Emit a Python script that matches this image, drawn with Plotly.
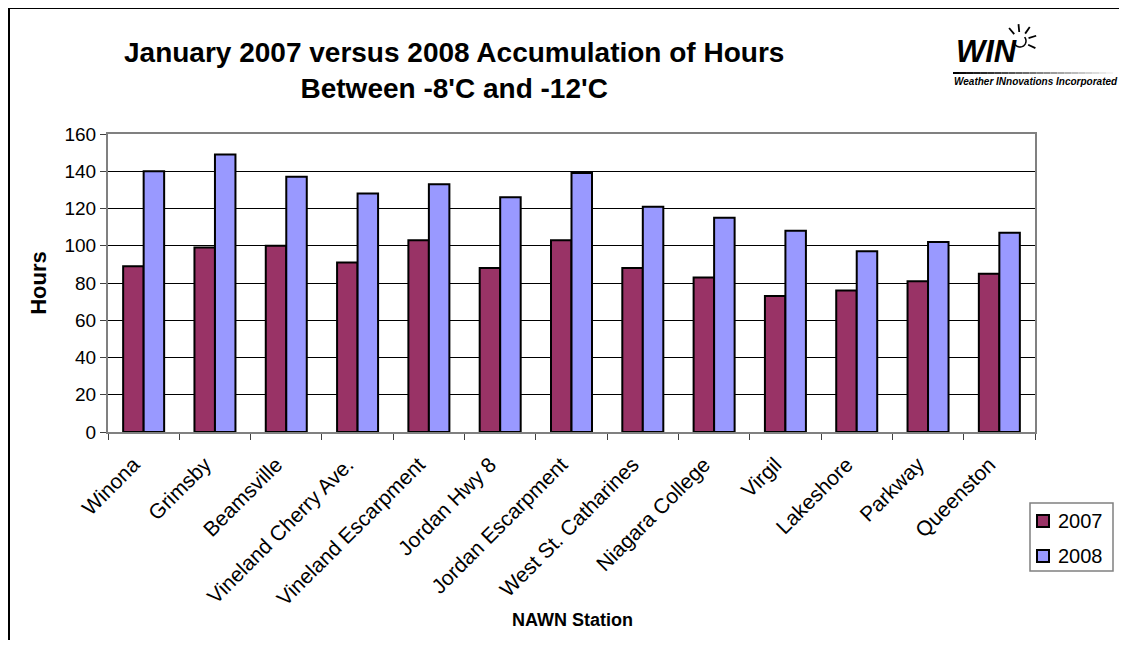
"""January 2007 vs 2008 hours between -8'C and -12'C, NAWN stations."""
import numpy as np
import plotly.graph_objects as go

stations = [
    "Winona", "Grimsby", "Beamsville", "Vineland Cherry Ave.",
    "Vineland Escarpment", "Jordan Hwy 8", "Jordan Escarpment",
    "West St. Catharines", "Niagara College", "Virgil", "Lakeshore",
    "Parkway", "Queenston",
]
hours_2007 = [89, 99, 100, 91, 103, 88, 103, 88, 83, 73, 76, 81, 85]
hours_2008 = [140, 149, 137, 128, 133, 126, 139, 121, 115, 108, 97, 102, 107]
y_ticks = [0, 20, 40, 60, 80, 100, 120, 140, 160]
series_names = ["2007", "2008"]
series_colors = ["#993366", "#9999FF"]

# page body has an 8px margin, so the figure is drawn 8px in from the window
OFF = 8
W, H = 1127 - 2 * OFF, 648 - 2 * OFF
L, R, T, B = 108, 1035, 134, 432  # plot area in window pixels
FONT = "Liberation Sans, Arial, sans-serif"


def px(x):
    return (x - L) / (R - L)


def py(y):
    return (B - y) / (B - T)


fig = go.Figure()
for name, color, vals in zip(series_names, series_colors, [hours_2007, hours_2008]):
    fig.add_trace(go.Bar(
        x=stations, y=vals, name=name,
        marker=dict(color=color, line=dict(color="black", width=2)),
    ))

shapes = []
# outer frame (top and left only visible)
shapes.append(dict(type="line", xref="paper", yref="paper",
                   x0=px(8), x1=px(1140), y0=py(8), y1=py(8),
                   line=dict(color="black", width=2)))
shapes.append(dict(type="line", xref="paper", yref="paper",
                   x0=px(9), x1=px(9), y0=py(8), y1=py(660),
                   line=dict(color="black", width=2)))

# logo: gradient underline
n_seg = 24
x_start, x_end, y_line = 953, 1120, 73
for i in range(n_seg):
    g = int(255 * i / (n_seg - 1))
    xa = x_start + (x_end - x_start) * i / n_seg
    xb = x_start + (x_end - x_start) * (i + 1) / n_seg
    shapes.append(dict(type="line", xref="paper", yref="paper",
                       x0=px(xa), x1=px(xb), y0=py(y_line), y1=py(y_line),
                       line=dict(color=f"rgb({g},{g},{g})", width=2)))

# logo: bulb arc and rays
cx, cy, rad = 1020, 41, 6
ang = np.radians(np.linspace(200, 400, 30))
pts = [(cx + rad * np.cos(a), cy - rad * np.sin(a)) for a in ang]
path = "M " + " L ".join(f"{px(a):.5f},{py(b):.5f}" for a, b in pts)
shapes.append(dict(type="path", xref="paper", yref="paper", path=path,
                   line=dict(color="black", width=1.5)))
for deg in [130, 95, 55, 18, -25]:
    a = np.radians(deg)
    x0, y0 = cx + 9 * np.cos(a), cy - 9 * np.sin(a)
    x1, y1 = cx + 17 * np.cos(a), cy - 17 * np.sin(a)
    shapes.append(dict(type="line", xref="paper", yref="paper",
                       x0=px(x0), x1=px(x1), y0=py(y0), y1=py(y1),
                       line=dict(color="black", width=1.8)))

annotations = [
    dict(text="<b>January 2007 versus 2008 Accumulation of Hours<br>Between -8'C and -12'C</b>",
         xref="paper", yref="paper", x=px(454), y=py(70), showarrow=False,
         xanchor="center", yanchor="middle", align="center",
         font=dict(family=FONT, size=28, color="black")),
    dict(text="<b>NAWN Station</b>", xref="paper", yref="paper",
         x=px(572), y=py(620), showarrow=False, xanchor="center", yanchor="middle",
         font=dict(family=FONT, size=18, color="black")),
    dict(text="<b><i>WIN</i></b>", xref="paper", yref="paper",
         x=px(1019), y=py(51), showarrow=False, xanchor="right", yanchor="middle",
         font=dict(family=FONT, size=31, color="black")),
    dict(text="<b><i>Weather INnovations Incorporated</i></b>", xref="paper", yref="paper",
         x=px(952), y=py(81), showarrow=False, xanchor="left", yanchor="middle",
         font=dict(family=FONT, size=10, color="black")),
]

# legend drawn by hand so it does not push the plot margins
shapes.append(dict(type="rect", xref="paper", yref="paper",
                   x0=px(1030), x1=px(1113), y0=py(503), y1=py(571),
                   line=dict(color="#808080", width=1.5), fillcolor="white"))
for i, (name, color) in enumerate(zip(series_names, series_colors)):
    yc = 521 + 35 * i
    shapes.append(dict(type="rect", xref="paper", yref="paper",
                       x0=px(1037), x1=px(1049), y0=py(yc - 6), y1=py(yc + 6),
                       line=dict(color="black", width=2), fillcolor=color))
    annotations.append(dict(text=name, xref="paper", yref="paper",
                            x=px(1056), y=py(yc), showarrow=False,
                            xanchor="left", yanchor="middle",
                            font=dict(family=FONT, size=20, color="black")))

fig.update_layout(
    width=W, height=H,
    margin=dict(l=L - OFF, r=W - (R - OFF), t=T - OFF, b=H - (B - OFF)),
    paper_bgcolor="white", plot_bgcolor="white",
    barmode="group", bargap=0.425, bargroupgap=0,
    font=dict(family=FONT, size=19, color="black"),
    showlegend=False,
    shapes=shapes,
    annotations=annotations,
)
fig.update_xaxes(
    tickangle=-45, ticks="outside", ticklen=6, tickcolor="#404040",
    tickson="boundaries", showline=True, linecolor="#808080", linewidth=2,
    mirror=True, showgrid=False, tickfont=dict(size=21),
    ticklabelshift=-10, ticklabelstandoff=10,
)
fig.update_yaxes(
    range=[0, 160], tickvals=y_ticks, ticks="outside", ticklen=6,
    tickcolor="#404040", showline=True, linecolor="#808080", linewidth=2,
    mirror=True, showgrid=True, gridcolor="black", gridwidth=1,
    zeroline=False, tickfont=dict(size=19),
    title=dict(text="<b>Hours</b>", font=dict(size=22), standoff=12),
)

fig.write_html("out.html")
